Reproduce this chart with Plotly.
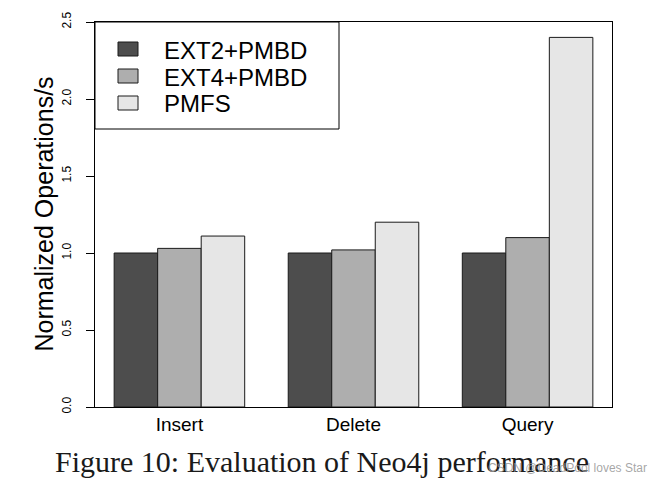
import plotly.graph_objects as go

categories = ["Insert", "Delete", "Query"]
series_names = ["EXT2+PMBD", "EXT4+PMBD", "PMFS"]
ext2_pmbd = [1.00, 1.00, 1.00]
ext4_pmbd = [1.03, 1.02, 1.10]
pmfs = [1.11, 1.20, 2.40]
y_ticks = [0.0, 0.5, 1.0, 1.5, 2.0, 2.5]
y_tick_labels = ["0.0", "0.5", "1.0", "1.5", "2.0", "2.5"]

colors = ["#4D4D4D", "#AEAEAE", "#E6E6E6"]

fig = go.Figure()
for name, vals, col in zip(series_names, [ext2_pmbd, ext4_pmbd, pmfs], colors):
    fig.add_trace(go.Bar(
        x=categories, y=vals, name=name,
        marker=dict(color=col, line=dict(color="#1a1a1a", width=1)),
    ))

L, R, T, B = 95, 44, 22, 75
W, H = 656, 482
pw = W - L - R
ph = H - T - B


def px(x):
    return (x - L) / pw


def py(y):
    return (T + ph - y) / ph


shapes = [dict(type="rect", xref="paper", yref="paper",
               x0=px(95), x1=px(339), y0=py(129), y1=py(22),
               line=dict(color="black", width=1), fillcolor="white", layer="above")]
annotations = []
for i, (name, col) in enumerate(zip(series_names, colors)):
    cy = 49 + 27 * i
    shapes.append(dict(type="rect", xref="paper", yref="paper",
                       x0=px(118), x1=px(138), y0=py(cy + 7), y1=py(cy - 7),
                       line=dict(color="#1a1a1a", width=1), fillcolor=col, layer="above"))
    annotations.append(dict(text=name, xref="paper", yref="paper",
                            x=px(162), y=py(cy + 1), xanchor="left", yanchor="middle",
                            showarrow=False,
                            font=dict(size=24, family="Liberation Sans, Arial, sans-serif", color="black")))

annotations += [
    dict(text="Normalized Operations/s", xref="paper", yref="paper",
         x=px(43), y=0.5, xanchor="center", yanchor="middle",
         textangle=-90, showarrow=False,
         font=dict(size=25, family="Liberation Sans, Arial, sans-serif", color="black")),
    dict(text="Figure 10: Evaluation of Neo4j performance", xref="paper", yref="paper",
         x=px(322), y=py(461),
         xanchor="center", yanchor="middle", showarrow=False,
         font=dict(size=30, family="Liberation Serif, Times New Roman, serif", color="#1a1a1a")),
    dict(text="CSDN @DeadPool loves Star", xref="paper", yref="paper",
         x=px(567), y=py(468),
         xanchor="center", yanchor="middle", showarrow=False,
         font=dict(size=12, family="Liberation Sans, Arial, sans-serif", color="rgba(150,150,150,0.85)")),
]

fig.update_layout(
    width=W, height=H,
    margin=dict(l=L, r=R, t=T, b=B, pad=0),
    paper_bgcolor="white", plot_bgcolor="white",
    barmode="group", bargap=0.25, bargroupgap=0,
    font=dict(family="Liberation Sans, Arial, sans-serif", color="black"),
    showlegend=False,
    xaxis=dict(
        type="category", range=[-0.485, 2.485],
        showline=True, mirror=True, linecolor="black", linewidth=1,
        ticks="", showgrid=False, zeroline=False,
        tickfont=dict(size=19),
    ),
    yaxis=dict(
        range=[0, 2.5], tickvals=y_ticks, ticktext=y_tick_labels,
        showline=True, mirror=True, linecolor="black", linewidth=1,
        ticks="outside", ticklen=8, tickcolor="black", tickwidth=1,
        tickangle=-90, tickfont=dict(size=12),
        ticklabelstandoff=10,
        showgrid=False, zeroline=False,
    ),
    shapes=shapes,
    annotations=annotations,
)

fig.write_html("out.html", config={"displayModeBar": False},
               post_script="document.body.style.margin='0';")
